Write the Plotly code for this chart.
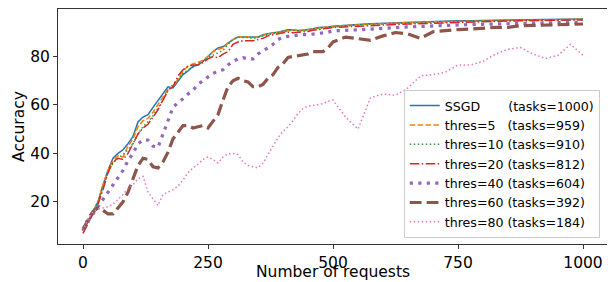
import plotly.graph_objects as go

requests = [0, 10, 20, 30, 40, 50, 60, 70, 80, 90,
            100, 110, 120, 130, 140, 150, 160, 170, 180, 190,
            200, 210, 220, 230, 240, 250, 260, 270, 280, 290,
            300, 310, 320, 330, 340, 350, 360, 370, 380, 390,
            400, 410, 420, 430, 440, 450, 460, 470, 480, 490,
            500, 525, 550, 575, 600, 625, 650, 675, 700, 725,
            750, 775, 800, 825, 850, 875, 900, 925, 950, 975, 1000]

ssgd = [8, 12, 16, 20, 27, 33, 38, 40, 41.5, 44,
        47, 53, 55, 56, 59, 62, 65, 67.5, 67, 70,
        72.5, 74, 76, 76.5, 78, 80, 82, 83.5, 84, 85.5,
        87, 88, 88, 88, 87.8, 88, 89, 89.5, 89.8, 90,
        90.5, 91, 91, 90.7, 90.8, 91, 91.5, 92, 92, 92.2,
        92.5, 93, 93.2, 93.5, 93.7, 94, 94.1, 94.3, 94.4, 94.5,
        94.7, 94.8, 94.9, 95, 95, 95.1, 95.2, 95.2, 95.3, 95.4, 95.5]

thres5 = [8, 12, 16, 20, 27, 33, 37, 39, 38.5, 43,
          46, 51, 53.5, 54.5, 57, 60, 63.5, 66.5, 67.5, 71,
          74, 76, 77, 77.5, 78.5, 80, 82, 83, 83.5, 85.5,
          87, 88, 88.2, 88, 87.8, 88, 88.8, 89.3, 89.7, 90,
          90.4, 90.8, 91, 90.8, 90.8, 91, 91.4, 91.8, 92, 92.2,
          92.4, 92.8, 93.1, 93.4, 93.6, 93.9, 94, 94.2, 94.3, 94.4,
          94.6, 94.7, 94.8, 94.9, 95, 95, 95.1, 95.1, 95.2, 95.3, 95.4]

thres10 = [8, 12, 15.5, 20, 26, 32, 36, 38, 39.5, 41.5,
           44, 48, 51, 53, 55.5, 58.5, 62, 66, 68.5, 70.5,
           73, 74.5, 75.5, 77, 78, 79.5, 80.5, 81.5, 82.5, 85,
           87, 88, 88, 87.8, 87.5, 87.8, 88.5, 89, 89.5, 90,
           90.3, 90.6, 90.8, 90.6, 90.6, 90.8, 91.2, 91.6, 91.8, 92,
           92.2, 92.7, 93, 93.3, 93.5, 93.8, 93.9, 94.1, 94.2, 94.3,
           94.5, 94.6, 94.7, 94.8, 94.9, 94.9, 95, 95, 95.1, 95.2, 95.3]

thres20 = [7, 11, 15, 19, 25, 32, 36.5, 38, 37.5, 40,
           44, 48, 50.5, 52, 55, 58, 62, 66, 67.5, 72,
           74.5, 76, 76.5, 76.5, 77.5, 79, 80, 79.5, 81, 82,
           85, 86, 86.5, 86.5, 86.5, 87, 87.5, 88.5, 89, 89.5,
           89.8, 90, 89.8, 90, 90, 90.3, 90.8, 91, 91.3, 91.7,
           92, 92.3, 92.5, 92.8, 93, 93.2, 93.4, 93.6, 93.8, 93.9,
           94.1, 94.2, 94.4, 94.5, 94.6, 94.7, 94.8, 94.9, 95, 95, 95.1]

thres40 = [9, 12, 15, 18, 21, 24, 27, 30, 33, 37,
           40, 44, 45.5, 45.5, 43, 42.5, 48, 53, 59, 61,
           62.5, 64.5, 66, 68.5, 70, 71.5, 73, 74, 74.5, 76.5,
           78, 79, 79.5, 79, 79, 81, 82.5, 83.5, 85, 87,
           88, 88.3, 88.6, 88.8, 89, 89, 89.2, 89.4, 89.5, 90,
           90.6, 90.7, 91, 91.3, 91.7, 92, 92.2, 92.4, 92.7, 93,
           93, 93.2, 93.3, 93.4, 93.5, 93.8, 94, 94, 94.1, 94.1, 94.2]

thres60 = [8, 13, 16, 17.5, 16.5, 15, 15, 17.5, 20, 24,
           30, 35, 38, 37.5, 34.5, 34, 36.5, 40.5, 46, 49,
           51.5, 51.5, 50.5, 51, 51.5, 50.5, 53, 56, 62, 67.5,
           70, 71, 70, 69.5, 67.5, 67.5, 68.5, 71, 72.5, 75.5,
           77, 79.6, 80, 80.3, 80.8, 81, 82, 82, 82, 83.5,
           86, 88, 87.5, 86.7, 88.5, 89.9, 89.3, 87.5, 90.2, 90.8,
           91.1, 91.3, 91.8, 92, 92, 92.7, 92.8, 93, 93.2, 93.4, 93.4]

thres80 = [8, 13, 16, 17, 17.5, 18, 19, 21, 23, 25.5,
           27, 29.5, 30.5, 24, 21, 18.5, 23, 24, 25, 26.5,
           29, 32, 34, 35.5, 37.5, 38.5, 37.5, 36, 38.5, 39.8,
           40, 39.5, 36.5, 35, 34.5, 34, 36, 39.5, 43.5, 46.5,
           49, 51, 53.5, 56.5, 58.5, 59.5, 59.8, 60, 60.5, 61.5,
           62, 55, 50, 63, 64.5, 64, 67, 72, 72.5, 73.5,
           76.5, 76.5, 78, 81, 83, 83.7, 81, 79.2, 80.5, 85, 80.5]

x_ticks = [0, 250, 500, 750, 1000]
y_ticks = [20, 40, 60, 80]
x_title = "Number of requests"
y_title = "Accuracy"

NB = "\u00a0"
labels = [
    "SSGD" + NB * 7 + "(tasks=1000)",
    "thres=5" + NB * 3 + "(tasks=959)",
    "thres=10" + NB + "(tasks=910)",
    "thres=20" + NB + "(tasks=812)",
    "thres=40" + NB + "(tasks=604)",
    "thres=60" + NB + "(tasks=392)",
    "thres=80" + NB + "(tasks=184)",
]
series = [ssgd, thres5, thres10, thres20, thres40, thres60, thres80]
colors = ["#1f77b4", "#ff7f0e", "#2ca02c", "#d62728", "#9467bd", "#8c564b", "#e377c2"]
widths = [1.5, 1.5, 1.5, 1.5, 3.2, 3.2, 1.5]
dashes = ["solid", "5.5px,2.4px", "1.5px,2.5px", "9.6px,2.4px,1.5px,2.4px",
          "3.2px,5.3px", "11.8px,5.1px", "1.5px,2.5px"]

fig = go.Figure()
for name, ys, c, w, d in zip(labels, series, colors, widths, dashes):
    fig.add_trace(go.Scatter(x=requests, y=ys, mode="lines", name=name,
                             line=dict(color=c, width=w, dash=d)))

font = "DejaVu Sans"
# The page body has an 8px margin, so the figure is sized/offset to compensate.
plot_h = 274 - 1 - 38
fig.update_layout(
    width=607, height=274,
    margin=dict(l=50, r=7, t=1, b=38),
    plot_bgcolor="white", paper_bgcolor="white",
    font=dict(family=font, size=15.5, color="black"),
    legend=dict(x=0.985, xanchor="right", y=0.026, yanchor="bottom",
                bgcolor="rgba(255,255,255,0.8)", bordercolor="#cccccc", borderwidth=1,
                font=dict(family=font, size=12.6, color="black"),
                tracegroupgap=0, itemwidth=30),
    showlegend=True,
    annotations=[dict(text=x_title, xref="paper", yref="paper", x=0.5,
                      y=-38 / plot_h, xanchor="center", yanchor="bottom",
                      showarrow=False, borderpad=0,
                      font=dict(family=font, size=15.5, color="black"))],
)
fig.update_xaxes(range=[-50, 1050], tickvals=x_ticks,
                 ticks="outside", ticklen=4, tickcolor="#333", showgrid=False,
                 zeroline=False, showline=True, linecolor="#333", linewidth=1, mirror=True,
                 automargin=False,
                 tickfont=dict(size=15.5))
fig.update_yaxes(range=[2.6, 99.6], tickvals=y_ticks,
                 ticks="outside", ticklen=4, tickcolor="#333", showgrid=False,
                 zeroline=False, showline=True, linecolor="#333", linewidth=1, mirror=True,
                 automargin=False,
                 title=dict(text=y_title, standoff=1, font=dict(size=15.5)),
                 tickfont=dict(size=15.5))

fig.write_html("out.html")
